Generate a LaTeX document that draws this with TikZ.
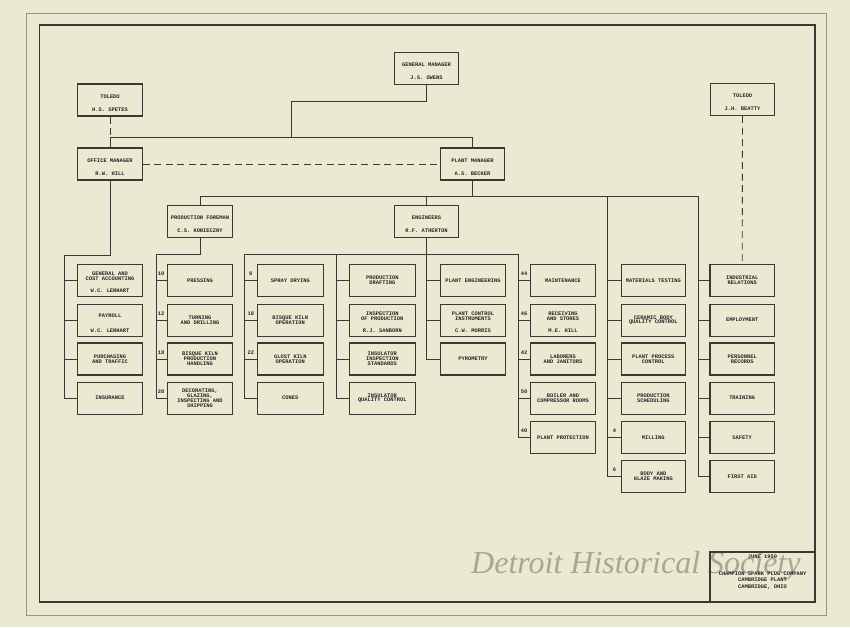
\documentclass[tikz,border=0pt]{standalone}
\usepackage{fontspec}
\newfontfamily\twfont{Liberation Mono}
\newfontfamily\wmfont{Liberation Serif}
\usetikzlibrary{calc}
\definecolor{paper}{RGB}{236,233,210}
\definecolor{ink}{RGB}{58,58,50}
\definecolor{typeink}{RGB}{38,38,34}
\definecolor{wm}{RGB}{170,166,144}
\definecolor{faint}{RGB}{150,150,134}
\tikzset{
  box/.style={draw=ink, line width=1.1pt, minimum width=64.5pt, minimum height=32pt, inner sep=0pt,
    font=\twfont\bfseries\fontsize{5.4}{4.9}\selectfont, text=typeink, align=center},
  wbox/.style={box, minimum width=66pt},
  link/.style={draw=ink, line width=0.9pt},
  dashlink/.style={draw=ink, line width=0.9pt, dash pattern=on 7pt off 4.5pt},
  tw/.style={font=\twfont\bfseries\fontsize{5.4}{4.9}\selectfont, text=typeink, inner sep=0pt, align=center},
}
\newcommand\UBox[5]{%
  \node[box] (#1) at (#2,#3) {};
  \node[tw] (#1a) at ($(#1.north)+(0,13)$) {#4};
  \node[tw] (#1b) at ($(#1.north)+(0,26)$) {#5};}
\newcommand\CBox[5][box]{%
  \node[#1] (#2) at (#3,#4) {#5};}
\newcommand\CBoxN[6][box]{%
  \node[#1] (#2) at (#3,#4) {};
  \node[tw] (#2a) at ($(#2.north)+(0,12.5)$) {#5};
  \node[tw] (#2b) at ($(#2.north)+(0,27)$) {#6};}
\begin{document}
\begin{tikzpicture}[x=1pt,y=-1pt]
\useasboundingbox (0,0) rectangle (850,627);
\fill[paper] (0,0) rectangle (850,627);
% frames
\draw[faint, line width=0.7pt] (26,13) rectangle (826,615);
\draw[ink, line width=1.6pt] (39.5,25) rectangle (815,602);

% upper boxes
\UBox{gm}{426.5}{68.5}{GENERAL MANAGER}{J.S. OWENS}
\UBox{tl}{110}{100}{TOLEDO}{H.S. SPETES}
\UBox{tr}{742.5}{99.5}{TOLEDO}{J.H. BEATTY}
\UBox{om}{110}{164}{OFFICE MANAGER}{R.W. HILL}
\UBox{pm}{472.5}{164}{PLANT MANAGER}{A.S. BECKER}
\UBox{pf}{200}{221.5}{PRODUCTION FOREMAN}{C.S. KONIECZNY}
\UBox{en}{426.5}{221.5}{ENGINEERS}{R.F. ATHERTON}

% row positions
\def\ra{280.5}\def\rb{320.2}\def\rc{359}\def\rd{398.2}\def\re{437.4}\def\rf{476.4}

% office column
\CBoxN{o1}{110}{\ra}{GENERAL AND\\COST ACCOUNTING}{W.C. LENHART}
\CBoxN{o2}{110}{\rb}{PAYROLL}{W.C. LENHART}
\CBox{o3}{110}{\rc}{PURCHASING\\AND TRAFFIC}
\CBox{o4}{110}{\rd}{INSURANCE}
% production foreman column
\CBox{p1}{200}{\ra}{PRESSING}
\CBox{p2}{200}{\rb}{TURNING\\AND DRILLING}
\CBox{p3}{200}{\rc}{BISQUE KILN\\PRODUCTION\\HANDLING}
\CBox{p4}{200}{\rd}{DECORATING,\\GLAZING,\\INSPECTING AND\\SHIPPING}
% spray drying column
\CBox[wbox]{s1}{290.3}{\ra}{SPRAY DRYING}
\CBox[wbox]{s2}{290.3}{\rb}{BISQUE KILN\\OPERATION}
\CBox[wbox]{s3}{290.3}{\rc}{GLOST KILN\\OPERATION}
\CBox[wbox]{s4}{290.3}{\rd}{CONES}
% drafting column
\CBox[wbox]{d1}{382.3}{\ra}{PRODUCTION\\DRAFTING}
\CBoxN[wbox]{d2}{382.3}{\rb}{INSPECTION\\OF PRODUCTION}{R.J. SANBORN}
\CBox[wbox]{d3}{382.3}{\rc}{INSULATOR\\INSPECTION\\STANDARDS}
\CBox[wbox]{d4}{382.3}{\rd}{INSULATOR\\QUALITY CONTROL}
% plant engineering column
\CBox{e1}{473}{\ra}{PLANT ENGINEERING}
\CBoxN{e2}{473}{\rb}{PLANT CONTROL\\INSTRUMENTS}{C.W. MORRIS}
\CBox{e3}{473}{\rc}{PYROMETRY}
% maintenance column
\CBox{m1}{563}{\ra}{MAINTENANCE}
\CBoxN{m2}{563}{\rb}{RECEIVING\\AND STORES}{M.E. HILL}
\CBox{m3}{563}{\rc}{LABORERS\\AND JANITORS}
\CBox{m4}{563}{\rd}{BOILER AND\\COMPRESSOR ROOMS}
\CBox{m5}{563}{\re}{PLANT PROTECTION}
% materials testing column
\CBox{t1}{653.3}{\ra}{MATERIALS TESTING}
\CBox{t2}{653.3}{\rb}{CERAMIC BODY\\QUALITY CONTROL}
\CBox{t3}{653.3}{\rc}{PLANT PROCESS\\CONTROL}
\CBox{t4}{653.3}{\rd}{PRODUCTION\\SCHEDULING}
\CBox{t5}{653.3}{\re}{MILLING}
\CBox{t6}{653.3}{\rf}{BODY AND\\GLAZE MAKING}
% industrial relations column
\CBox{i1}{742.2}{\ra}{INDUSTRIAL\\RELATIONS}
\CBox{i2}{742.2}{\rb}{EMPLOYMENT}
\CBox{i3}{742.2}{\rc}{PERSONNEL\\RECORDS}
\CBox{i4}{742.2}{\rd}{TRAINING}
\CBox{i5}{742.2}{\re}{SAFETY}
\CBox{i6}{742.2}{\rf}{FIRST AID}

% top connectors
\coordinate (gb) at (291,138);
\draw[link] (gm.south) -- ++(0,16) -| (gb);
\draw[link] (om.north) -- ++(0,-10) -| (pm.north);
\draw[dashlink] (tl.south) -- (tl.south |- gb);
\draw[dashlink] (om.east) -- (pm.west);
\draw[dashlink] (tr.south) -- (i1.north);

% plant manager bus
\coordinate (tbus) at (607.5,196);
\coordinate (ibus) at (698,196);
\draw[link] (pm.south) -- (pm.south |- ibus);
\draw[link] (pf.north) |- (ibus) |- (i6.west);
\draw[link] (en.north) -- (en.north |- ibus);
\draw[link] (tbus) |- (t6.west);
\foreach \b in {t1,t2,t3,t4,t5} \draw[link] (\b.west) -- (\b.west -| tbus);
\foreach \b in {i1,i2,i3,i4,i5} \draw[link] (\b.west) -- (\b.west -| ibus);

% office bus
\coordinate (obus) at (64,255);
\draw[link] (om.south) |- (obus) |- (o4.west);
\foreach \b in {o1,o2,o3} \draw[link] (\b.west) -- (\b.west -| obus);

% production foreman bus
\coordinate (pbus) at (156,254);
\draw[link] (pf.south) |- (pbus) |- (p4.west);
\foreach \b in {p1,p2,p3} \draw[link] (\b.west) -- (\b.west -| pbus);

% engineers bus
\coordinate (sbus) at (244.5,254);
\coordinate (dbus) at (336,254);
\coordinate (mbus) at (518,254);
\draw[link] (sbus) -- (mbus);
\draw[link] (en.south) |- (e3.west);
\draw[link] (sbus) |- (s4.west);
\draw[link] (dbus) |- (d4.west);
\draw[link] (mbus) |- (m5.west);
\foreach \b in {s1,s2,s3} \draw[link] (\b.west) -- (\b.west -| sbus);
\foreach \b in {d1,d2,d3} \draw[link] (\b.west) -- (\b.west -| dbus);
\foreach \b in {e1,e2} \draw[link] (\b.west) -- (\b.west -| en.south);
\foreach \b in {m1,m2,m3,m4} \draw[link] (\b.west) -- (\b.west -| mbus);

% numbers
\foreach \b/\t in {p1/10,p2/12,p3/18,p4/20,s1/8,s2/18,s3/22,m1/44,m2/46,m3/42,m4/50,m5/40,t5/4,t6/6}
  \node[tw] (n\b) at ($(\b.west)+(-6,-6.5)$) {\t};

% watermark
\node[font=\wmfont\itshape\fontsize{32}{32}\selectfont, text=wm, anchor=base west, inner sep=0pt] (wmark) at (471,573.5) {Detroit Historical Society};

% title block
\draw[ink, line width=1.1pt] (710,602) |- (815,552);
\node[tw] (date) at (762.5,556.5) {JUNE 1950};
\node[tw, font=\twfont\bfseries\fontsize{5.4}{6.3}\selectfont] (firm) at (762.5,580.5) {CHAMPION SPARK PLUG COMPANY\\CAMBRIDGE PLANT\\CAMBRIDGE, OHIO};
\end{tikzpicture}
\end{document}
